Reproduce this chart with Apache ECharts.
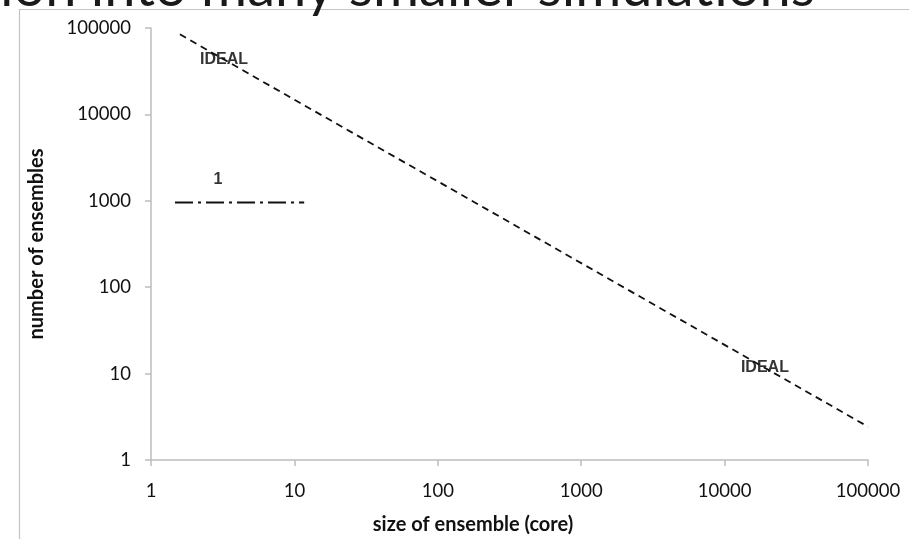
<!DOCTYPE html>
<html>
<head>
<meta charset="utf-8">
<script src="https://cdn.jsdelivr.net/npm/echarts@6/dist/echarts.min.js"></script>
<style>
  html, body { margin: 0; padding: 0; background: #fff; }
  #chart { width: 909px; height: 539px; }
</style>
</head>
<body>
<div id="chart"></div>
<script>
// Data
const tickLabels = ['1', '10', '100', '1000', '10000', '100000'];
const idealX = [1.59, 10, 100, 1000, 10000, 100000];
const idealY = [84500, 14800, 1680, 190, 21.5, 2.43];
const idealLabelX = [3.23, 19100];
const idealLabelY = [43200, 11.6];
const oneX = [1.47, 11.7];
const oneY = [957, 957];
const oneLabelX = [2.93];
const oneLabelY = [1780];
const titleText = 'osition into many smaller simulations';
const xTitle = 'size of ensemble (core)';
const yTitle = 'number of ensembles';

const zip = (a, b) => a.map((v, i) => [v, b[i]]);
const fmt = v => {
  const e = Math.round(Math.log10(v));
  return tickLabels[e] !== undefined ? tickLabels[e] : String(v);
};

const chart = echarts.init(document.getElementById('chart'), null, { renderer: 'canvas' });
const axisCommon = {
  type: 'log',
  logBase: 10,
  min: 1,
  max: 100000,
  splitNumber: 5,
  axisLine: { show: true, lineStyle: { color: '#bdbdbd', width: 1.5 } },
  axisTick: { show: true, length: 6, inside: false, lineStyle: { color: '#bdbdbd', width: 1.5 } },
  splitLine: { show: false },
  axisLabel: { formatter: fmt, color: '#111', fontFamily: 'Lato', fontSize: 18.5, margin: 20 }
};

const labelStyle = {
  show: true, position: 'inside', fontFamily: 'Liberation Sans', fontWeight: 'bold',
  fontSize: 16, color: '#000', textBorderWidth: 0, textBorderColor: 'transparent'
};

chart.setOption({
  animation: false,
  backgroundColor: '#fff',
  grid: { left: 151, right: 41, top: 28, bottom: 79, containLabel: false, outerBoundsMode: 'none' },
  xAxis: Object.assign({}, axisCommon, {
    axisLabel: Object.assign({}, axisCommon.axisLabel, { margin: 22 })
  }),
  yAxis: Object.assign({}, axisCommon, {
    name: yTitle,
    nameLocation: 'middle',
    nameGap: 104,
    nameRotate: 90,
    nameTextStyle: { fontFamily: 'Lato', fontWeight: 'bold', fontSize: 20, color: '#111' }
  }),
  graphic: [
    { type: 'rect', shape: { x: 19.5, y: 9.5, width: 1200, height: 1200 }, style: { fill: 'none', stroke: '#c4c4c4', lineWidth: 1.2 }, silent: true, z: -1 },
    { type: 'text', style: { x: 815, y: -40, text: titleText, fontFamily: 'Lato', fontSize: 56, fill: '#1a1a1a', align: 'right', verticalAlign: 'top' }, z: 10 },
    { type: 'text', style: { x: 473, y: 525, text: xTitle, fontFamily: 'Lato', fontWeight: 'bold', fontSize: 20, fill: '#111', align: 'center', verticalAlign: 'middle' } }
  ],
  series: [
    {
      type: 'line', name: 'IDEAL', data: zip(idealX, idealY), symbol: 'none',
      lineStyle: { color: '#111', width: 1.8, type: [7, 5] }, silent: true
    },
    {
      type: 'line', name: '1', data: zip(oneX, oneY), symbol: 'none',
      lineStyle: { color: '#111', width: 2, type: [18, 5, 3, 5] }, silent: true
    },
    {
      type: 'scatter', data: zip(idealLabelX, idealLabelY), symbolSize: 0,
      label: Object.assign({}, labelStyle, { formatter: 'IDEAL' }), silent: true
    },
    {
      type: 'scatter', data: zip(oneLabelX, oneLabelY), symbolSize: 0,
      label: Object.assign({}, labelStyle, { formatter: '1' }), silent: true
    }
  ]
});
</script>
</body>
</html>
